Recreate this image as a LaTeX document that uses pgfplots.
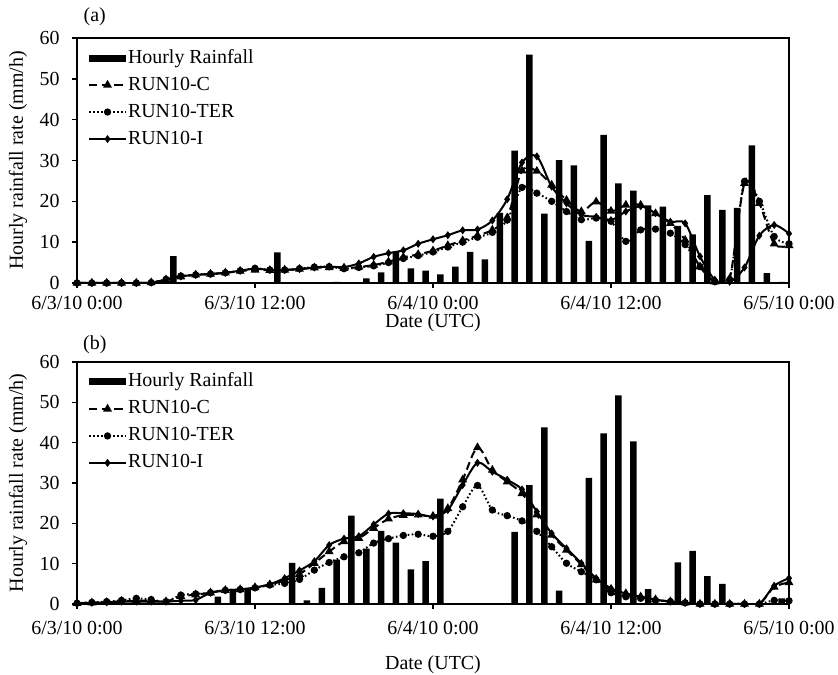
\documentclass[border=0pt]{standalone}
\usepackage{fontspec}
\setmainfont{Liberation Serif}
\usepackage{pgfplots}
\pgfplotsset{compat=1.18}

\pgfplotsset{
  panel/.style={
    scale only axis, width=712bp,
    xmin=0, xmax=48, ymin=0, ymax=60,
    clip mode=individual,
    xtick={0,12,24,36,48},
    xticklabels={6/3/10 0:00,6/3/10 12:00,6/4/10 0:00,6/4/10 12:00,6/5/10 0:00},
    ytick={0,10,...,60},
    tick pos=left, tick align=outside, major tick length=5bp,
    axis line style={line width=1.6bp},
    every tick/.style={black, line width=1.6bp},
    font=\fontsize{20}{24}\selectfont,
    /pgf/number format/assume math mode=true,
    yticklabel style={anchor=east, xshift=-9bp},
    xticklabel style={anchor=center},
    ylabel={Hourly rainfall rate (mm/h)},
    xlabel={Date (UTC)},
    ylabel style={at={(axis description cs:-0.0829,0.5)}, anchor=center},
    legend cell align=left,
    legend style={draw=none, fill=none, inner sep=0pt, outer sep=0pt,
      row sep=7bp, font=\fontsize{20}{24}\selectfont,
      nodes={inner sep=1bp, text height=14bp, text depth=4bp},
      at={(axis description cs:0.0155,0.959)}, anchor=north west},
    legend image code/.code={
      \draw[mark repeat=2, mark phase=2, #1]
        plot coordinates {(0bp,0bp) (18.5bp,0bp) (37bp,0bp)};},
  },
  rain/.style={ybar, bar width=6.5bp, fill=black, draw=none,
    legend image code/.code={\fill[black] (0bp,-3.5bp) rectangle (37bp,3.5bp);}},
  runc/.style={black, line width=2bp, dash pattern=on 8bp off 4.5bp, smooth,
    mark=triangle*, mark size=3.2bp, mark options={solid}},
  runter/.style={black, line width=2bp, dash pattern=on 1.6bp off 2.4bp, smooth,
    mark=*, mark size=2.6bp, mark options={solid}},
  runi/.style={black, line width=2bp, smooth,
    mark=diamond*, mark size=2.4bp, mark options={solid}},
}

\begin{document}
\begin{tikzpicture}[x=1bp, y=1bp]
\useasboundingbox (0,0) rectangle (838,675);

% ---------------- panel (a)
\begin{axis}[panel, height=245bp, at={(77bp,392bp)}, anchor=south west,
  xlabel style={at={(axis description cs:0.5,-0.163)}, anchor=center},
  xticklabel style={yshift=-15bp}]
  \addplot[rain] coordinates {
    (6.5,6.6) (13.5,7.5) (17.5,0.3) (19.5,1.1) (20.5,2.6) (21.5,7.7)
    (22.5,3.6) (23.5,3.0) (24.5,2.1) (25.5,4.0) (26.5,7.6) (27.5,5.8)
    (28.5,17.2) (29.5,32.4) (30.5,55.9) (31.5,17.0) (32.5,30.1) (33.5,28.8)
    (34.5,10.3) (35.5,36.3) (36.5,24.4) (37.5,22.6) (38.5,19.0) (39.5,18.7)
    (40.5,14.0) (41.5,11.9) (42.5,21.5) (43.5,17.9) (44.5,18.4) (45.5,33.7)
    (46.5,2.4) (47.5,0.3)};
  \addlegendentry{Hourly Rainfall}

  \addplot[runc] coordinates {
    (0,0) (1,0) (2,0) (3,0) (4,0) (5,0.1) (6,0.8) (7,1.5) (8,2.0) (9,2.2)
    (10,2.5) (11,2.9) (12,3.2) (13,3.1) (14,3.2) (15,3.4) (16,3.7) (17,3.8)
    (18,3.6) (19,3.9) (20,4.4) (21,5.2) (22,6.3) (23,7.0) (24,7.9) (25,9.2)
    (26,10.4) (27,11.6) (28,13.0) (29,16.0) (30,27.5) (31,27.4) (32,24.0)
    (33,20.3) (34,17.5) (35,19.9) (36,17.6) (37,19.1) (38,19.1) (39,17.0)
    (40,14.6) (41,10.5) (42,4.0) (43,0.3) (44,1.1) (45,24.4) (46,19.5)
    (47,9.6) (48,9.2)};
  \addlegendentry{RUN10-C}

  \addplot[runter] coordinates {
    (0,0) (1,0) (2,0) (3,0) (4,0) (5,0.1) (6,0.9) (7,1.7) (8,2.0) (9,2.2)
    (10,2.5) (11,3.0) (12,3.6) (13,3.2) (14,3.2) (15,3.5) (16,3.9) (17,4.0)
    (18,3.5) (19,3.8) (20,4.2) (21,5.0) (22,6.0) (23,6.7) (24,7.6) (25,8.8)
    (26,10.0) (27,11.2) (28,12.4) (29,15.4) (30,23.4) (31,22.0) (32,20.0)
    (33,17.5) (34,15.5) (35,15.9) (36,15.1) (37,10.2) (38,13.0) (39,13.2)
    (40,12.2) (41,9.4) (42,4.0) (43,0.3) (44,0.8) (45,24.9) (46,20.0)
    (47,11.4) (48,9.6)};
  \addlegendentry{RUN10-TER}

  \addplot[runi] coordinates {
    (0,0) (1,0) (2,0) (3,0) (4,0) (5,0.1) (6,0.8) (7,1.6) (8,2.0) (9,2.2)
    (10,2.5) (11,3.0) (12,3.5) (13,3.2) (14,3.2) (15,3.4) (16,3.8) (17,4.0)
    (18,3.9) (19,4.8) (20,6.4) (21,7.3) (22,8.0) (23,9.6) (24,10.7) (25,11.7)
    (26,12.9) (27,13.1) (28,15.3) (29,20.5) (30,29.5) (31,31.0) (32,23.6)
    (33,19.5) (34,16.7) (35,16.2) (36,15.4) (37,17.5) (38,18.8) (39,17.1)
    (40,15.0) (41,14.6) (42,6.5) (43,0.8) (44,0.3) (45,3.8) (46,11.6)
    (47,14.2) (48,12.1)};
  \addlegendentry{RUN10-I}

  \node[anchor=center] at (axis description cs:0.025,1.086) {(a)};
\end{axis}

% ---------------- panel (b)
\begin{axis}[panel, height=242bp, at={(77bp,71bp)}, anchor=south west,
  xlabel style={at={(axis description cs:0.5,-0.250)}, anchor=center},
  xticklabel style={yshift=-19bp}]
  \addplot[rain] coordinates {
    (9.5,1.8) (10.5,3.7) (11.5,3.7) (14.5,10.2) (15.5,0.9) (16.5,4.0)
    (17.5,11.0) (18.5,21.9) (19.5,13.7) (20.5,18.1) (21.5,15.2) (22.5,8.6)
    (23.5,10.6) (24.5,26.1) (29.5,17.9) (30.5,29.5) (31.5,43.8) (32.5,3.3)
    (34.5,31.3) (35.5,42.3) (36.5,51.7) (37.5,40.3) (38.5,3.7) (40.5,10.3)
    (41.5,13.2) (42.5,6.9) (43.5,5.0) (47.5,1.4)};
  \addlegendentry{Hourly Rainfall}

  \addplot[runc] coordinates {
    (0,0.2) (1,0.3) (2,0.4) (3,0.7) (4,0.8) (5,0.8) (6,0.6) (7,1.9) (8,2.3)
    (9,2.8) (10,3.4) (11,3.6) (12,4.1) (13,4.8) (14,5.9) (15,7.4) (16,10.1)
    (17,13.0) (18,15.5) (19,16.3) (20,18.8) (21,21.1) (22,22.0) (23,22.1)
    (24,21.8) (25,23.7) (26,30.8) (27,38.8) (28,33.2) (29,30.3) (30,27.4)
    (31,22.1) (32,17.1) (33,13.4) (34,9.8) (35,6.0) (36,3.6) (37,2.6)
    (38,1.8) (39,1.1) (40,0.6) (41,0.3) (42,0) (43,0) (44,0) (45,0) (46,0)
    (47,4.2) (48,5.3)};
  \addlegendentry{RUN10-C}

  \addplot[runter] coordinates {
    (0,0.2) (1,0.4) (2,0.6) (3,0.9) (4,1.4) (5,1.1) (6,0.6) (7,2.2) (8,2.5)
    (9,2.8) (10,3.4) (11,3.6) (12,4.0) (13,4.7) (14,5.1) (15,6.1) (16,8.4)
    (17,10.3) (18,11.7) (19,12.7) (20,15.1) (21,16.2) (22,17.0) (23,17.3)
    (24,16.8) (25,18.0) (26,24.1) (27,29.4) (28,23.3) (29,21.9) (30,20.6)
    (31,18.0) (32,14.2) (33,10.1) (34,8.0) (35,6.0) (36,2.8) (37,1.8)
    (38,1.4) (39,0.9) (40,0.6) (41,0.3) (42,0) (43,0) (44,0) (45,0) (46,0)
    (47,0.9) (48,0.8)};
  \addlegendentry{RUN10-TER}

  \addplot[runi] coordinates {
    (0,0.2) (1,0.3) (2,0.4) (3,0.6) (4,0.6) (5,0.6) (6,0.6) (7,0.8) (8,1.0)
    (9,2.8) (10,3.4) (11,3.6) (12,4.1) (13,4.9) (14,6.4) (15,8.3) (16,10.6)
    (17,14.6) (18,16.2) (19,16.8) (20,19.7) (21,22.4) (22,22.5) (23,22.3)
    (24,21.7) (25,23.3) (26,29.5) (27,35.0) (28,32.8) (29,30.8) (30,28.4)
    (31,22.9) (32,17.5) (33,13.8) (34,10.1) (35,6.4) (36,3.9) (37,2.6)
    (38,1.8) (39,1.1) (40,0.6) (41,0.3) (42,0) (43,0) (44,0) (45,0) (46,0)
    (47,4.5) (48,6.4)};
  \addlegendentry{RUN10-I}

  \node[anchor=center] at (axis description cs:0.025,1.070) {(b)};
\end{axis}
\end{tikzpicture}
\end{document}
